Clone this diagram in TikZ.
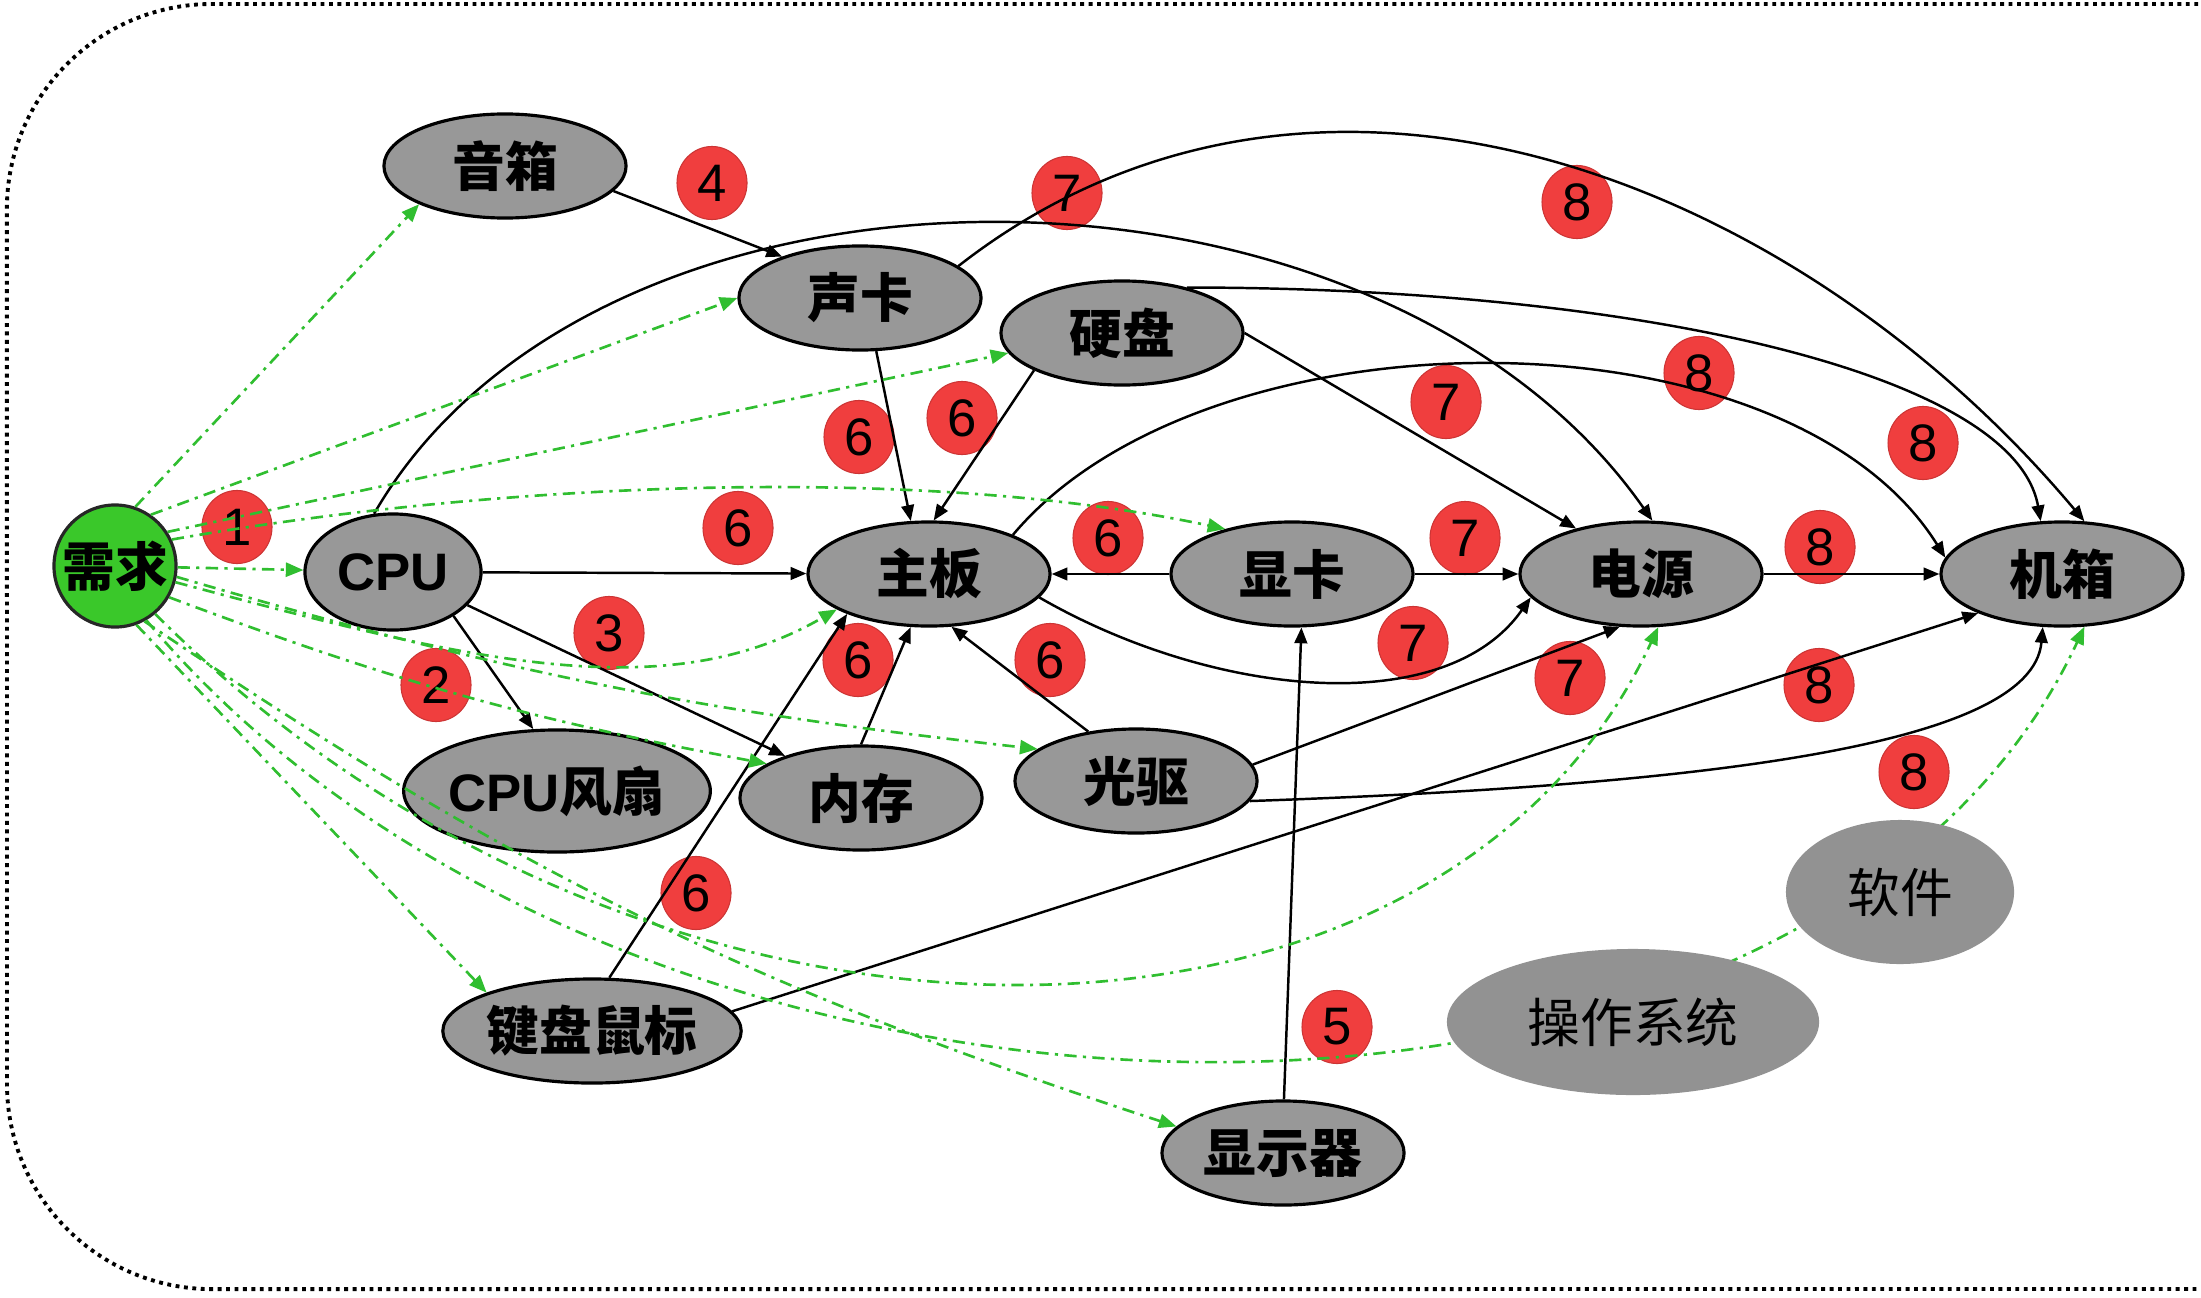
\documentclass[tikz,border=0pt]{standalone}
\usepackage{fontspec}
\setmainfont{Liberation Sans}
\newfontfamily\cjk{Noto Sans CJK SC}
\usetikzlibrary{arrows.meta,shapes.geometric}
\definecolor{nodegray}{RGB}{152,152,152}
\definecolor{softgray}{RGB}{146,146,146}
\definecolor{reqgreen}{RGB}{58,200,42}
\definecolor{badgered}{RGB}{240,62,62}
\definecolor{linkgreen}{RGB}{48,190,48}
\tikzset{
  part/.style={ellipse, draw=black, line width=0.9pt, fill=nodegray,
    minimum width=2.42cm, minimum height=1.04cm, inner sep=0pt,
    font=\fontsize{15}{18}\selectfont\cjk\bfseries},
  soft/.style={ellipse, fill=softgray, inner sep=0pt,
    font=\fontsize{15}{18}\selectfont\cjk},
  badge/.style={ellipse, fill=badgered, draw=badgered!85!black, line width=0.3pt,
    minimum width=0.70cm, minimum height=0.73cm, inner sep=0pt,
    font=\fontsize{15}{18}\selectfont},
  dep/.style={draw=black, line width=0.7pt, -{Triangle[length=4.5pt,width=3.6pt]}},
  req/.style={draw=linkgreen, line width=0.75pt,
    dash pattern=on 3.5pt off 1.8pt on 0.9pt off 1.8pt,
    -{Triangle[length=5pt,width=4pt]}},
  frame/.style={draw=black, line width=1.1pt, dash pattern=on 1.1pt off 1.3pt}
}
\begin{document}
\begin{tikzpicture}[x=0.01cm,y=0.01cm]
\useasboundingbox (0,0) rectangle (2201,-1297);
\draw[frame] (2215,-4) -- (212,-4) arc[start angle=90,end angle=180,radius=2.05cm]
  -- (7,-1084) arc[start angle=180,end angle=270,radius=2.05cm] -- (2215,-1289);

% nodes
\node[circle, draw=black!85, line width=0.9pt, fill=reqgreen, minimum size=1.22cm,
  inner sep=0pt, font=\fontsize{15}{18}\selectfont\cjk\bfseries] (xq) at (115,-566) {需求};
\node[part] (yx) at (505,-166) {音箱};
\node[part] (sk) at (860,-298) {声卡};
\node[part] (yp) at (1122,-333) {硬盘};
\node[part, minimum width=1.76cm, minimum height=1.16cm] (cpu) at (393,-572) {\rmfamily CPU};
\node[part] (zb) at (929,-574) {主板};
\node[part] (xk) at (1292,-574) {显卡};
\node[part] (dy) at (1641,-574) {电源};
\node[part] (jx) at (2062,-574) {机箱};
\node[part, minimum width=2.58cm, minimum height=1.22cm] (fs) at (557,-791) {{\rmfamily CPU}风扇};
\node[part] (nc) at (861,-798) {内存};
\node[part] (gq) at (1136,-781) {光驱};
\node[part] (jp) at (592,-1031) {键盘鼠标};
\node[part] (xsq) at (1283,-1153) {显示器};

% step badges
\node[badge] (b1) at (237,-527) {1};
\node[badge] (b2) at (436,-685) {2};
\node[badge] (b3) at (609,-633) {3};
\node[badge] (b4) at (712,-183) {4};
\node[badge] (b5) at (1337,-1027) {5};
\node[badge] (b6a) at (859,-437) {6};
\node[badge] (b6b) at (962,-418) {6};
\node[badge] (b6c) at (738,-528) {6};
\node[badge] (b6d) at (1108,-538) {6};
\node[badge] (b6e) at (858,-660) {6};
\node[badge] (b6f) at (1050,-660) {6};
\node[badge] (b6g) at (696,-893) {6};
\node[badge] (b7a) at (1067,-193) {7};
\node[badge] (b7b) at (1446,-402) {7};
\node[badge] (b7c) at (1465,-538) {7};
\node[badge] (b7d) at (1413,-643) {7};
\node[badge] (b7e) at (1570,-678) {7};
\node[badge] (b8a) at (1577,-202) {8};
\node[badge] (b8b) at (1699,-373) {8};
\node[badge] (b8c) at (1923,-443) {8};
\node[badge] (b8d) at (1820,-547) {8};
\node[badge] (b8e) at (1819,-685) {8};
\node[badge] (b8f) at (1914,-772) {8};

% black dependencies
\draw[dep] (yx.347) -- (sk.152);
\draw[dep] (cpu) -- (zb);
\draw[dep] (cpu.324) -- (fs.111);
\draw[dep] (cpu.336) -- (nc.151);
\draw[dep] (sk.287) -- (zb.109);
\draw[dep] (yp.203) -- (zb.85);
\draw[dep] (xk) -- (zb);
\draw[dep] (nc.90) -- (zb.251);
\draw[dep] (gq.134) -- (zb.293);
\draw[dep] (jp.72) -- (zb.206);
\draw[dep] (xsq.89) -- (xk.280);
\draw[dep] (xk) -- (dy);
\draw[dep] (dy) -- (jx);
\draw[dep] (cpu.108) to[out=60,in=125,out distance=4.5cm,in distance=4.8cm] (dy.78);
\draw[dep] (sk.18) to[out=38,in=130,out distance=4.5cm,in distance=4.5cm] (jx.67);
\draw[dep] (yp.east) -- (dy.145);
\draw[dep] (yp.35) to[out=0,in=100,out distance=4.5cm,in distance=1.5cm] (jx.112);
\draw[dep] (zb.25) to[out=50,in=122,out distance=3cm,in distance=3cm] (jx.172);
\draw[dep] (zb.348) to[out=-30,in=-125,out distance=2cm,in distance=1.5cm] (dy.192);
\draw[dep] (gq.8) -- (dy.248);
\draw[dep] (gq.350) to[out=2,in=-95,out distance=4.5cm,in distance=1.2cm] (jx.250);
\draw[dep] (jp.8) -- (jx.205);

% green requirement links
\draw[req] (xq.71) -- (yx.204);
\draw[req] (xq.55) -- (sk.180);
\draw[req] (xq.33) -- (yp.190);
\draw[req] (xq.25) to[out=10,in=168,out distance=3.2cm,in distance=3.2cm] (xk.146);
\draw[req] (xq) -- (cpu);
\draw[req] (xq.345) to[out=-15,in=210,out distance=3cm,in distance=2cm] (zb.201);
\draw[req] (xq.330) to[bend right=5] (nc.160);
\draw[req] (xq.350) to[bend right=5] (gq.162);
\draw[req] (xq.310) to[out=-45,in=-115,out distance=7cm,in distance=5.2cm] (dy.288);
\draw[req] (xq.290) -- (jp.160);
\draw[req] (xq.300) to[out=-50,in=-115,out distance=7.5cm,in distance=6.5cm] (jx.293);
\draw[req] (xq.298) to[bend right=8] (xsq.166);

% software nodes drawn on top
\node[soft, minimum width=3.72cm, minimum height=1.46cm] (os) at (1633,-1022) {操作系统};
\node[soft, minimum width=2.28cm, minimum height=1.44cm] (rj) at (1900,-892) {软件};
\end{tikzpicture}
\end{document}
